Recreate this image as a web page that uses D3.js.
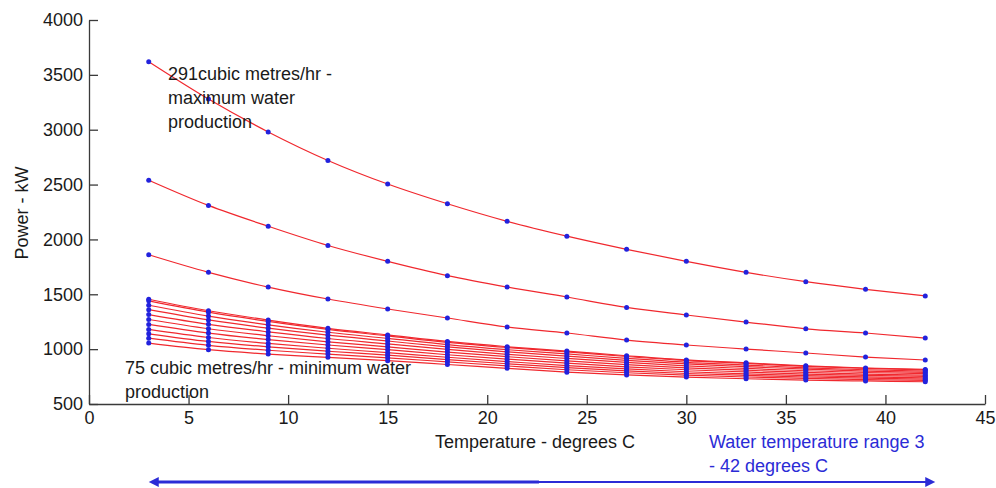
<!DOCTYPE html>
<html>
<head>
<meta charset="utf-8">
<script src="https://cdn.jsdelivr.net/npm/d3@7"></script>
<style>
  body { margin: 0; background: #fff; }
  svg { display: block; font-family: "Liberation Sans", Arial, sans-serif; }
</style>
</head>
<body>
<svg id="chart" width="996" height="488"></svg>
<script>
// temperatures (degrees C) where each curve was sampled
var temperatures = [3, 6, 9, 12, 15, 18, 21, 24, 27, 30, 33, 36, 39, 42];

// three upper curves (291 m3/hr at the top)
var upperSeries = [
  [3620, 3280, 2980, 2720, 2505, 2325, 2165, 2030, 1910, 1800, 1700, 1615, 1545, 1485],
  [2540, 2310, 2120, 1945, 1800, 1670, 1566, 1475, 1380, 1311, 1247, 1185, 1147, 1101],
  [1860, 1700, 1566, 1457, 1366, 1284, 1202, 1147, 1083, 1038, 1001, 965, 928, 901]
];

// the dense bundle of lower curves, down to 75 m3/hr
var lowerSeries = [
  [1455, 1350, 1265, 1190, 1130, 1070, 1022, 982, 940, 902, 875, 848, 828, 815],
  [1440, 1337, 1253, 1180, 1121, 1062, 1015, 975, 933, 896, 870, 843, 824, 811],
  [1400, 1301, 1222, 1154, 1098, 1041, 995, 956, 916, 880, 855, 830, 812, 800],
  [1360, 1266, 1191, 1127, 1074, 1020, 975, 936, 898, 865, 841, 817, 800, 788],
  [1315, 1226, 1157, 1097, 1048, 997, 953, 915, 879, 847, 824, 803, 787, 776],
  [1270, 1186, 1122, 1067, 1021, 973, 931, 893, 859, 829, 808, 788, 773, 763],
  [1225, 1146, 1087, 1038, 995, 949, 909, 872, 839, 812, 792, 773, 760, 751],
  [1180, 1106, 1052, 1008, 968, 926, 887, 850, 820, 794, 775, 759, 747, 738],
  [1140, 1070, 1021, 981, 945, 905, 867, 831, 802, 778, 761, 746, 735, 727],
  [1100, 1035, 990, 955, 921, 884, 847, 812, 785, 763, 746, 733, 723, 716],
  [1055, 995, 955, 925, 895, 860, 825, 790, 765, 745, 730, 718, 710, 703]
];

var xTicks = [0, 5, 10, 15, 20, 25, 30, 35, 40, 45];
var yTicks = [500, 1000, 1500, 2000, 2500, 3000, 3500, 4000];

var topNote = ['291cubic metres/hr -', 'maximum water', 'production'];
var bottomNote = ['75 cubic metres/hr - minimum water', 'production'];
var rangeNote = ['Water temperature range 3', '- 42 degrees C'];

var svg = d3.select('#chart');

var x = d3.scaleLinear().domain([0, 45]).range([89, 985]);
var y = d3.scaleLinear().domain([500, 4000]).range([404, 20]);

var lineColor = '#f0282e';
var dotColor = '#2222dd';
var blue = '#2b2bd6';
var ink = '#1a1a1a';

// axes with MATLAB-style inward ticks
var xAxis = svg.append('g')
  .attr('transform', 'translate(0,' + y(500) + ')')
  .call(d3.axisBottom(x).tickValues(xTicks).tickFormat(d3.format('d'))
    .tickSizeInner(-9).tickSizeOuter(0).tickPadding(5));
var yAxis = svg.append('g')
  .attr('transform', 'translate(' + x(0) + ',0)')
  .call(d3.axisLeft(y).tickValues(yTicks).tickFormat(d3.format('d'))
    .tickSizeInner(-9).tickSizeOuter(0).tickPadding(6));

[xAxis, yAxis].forEach(function(ax) {
  ax.select('.domain').attr('stroke', '#3a3a3a').attr('stroke-width', 1.3);
  ax.selectAll('.tick line').attr('stroke', '#3a3a3a').attr('stroke-width', 1.3);
  ax.selectAll('.tick text').attr('fill', ink).style('font-size', '18px')
    .style('font-family', '"Liberation Sans", Arial, sans-serif');
});
xAxis.selectAll('.tick text').attr('dy', '0.85em');

var line = d3.line()
  .x(function(d, i) { return x(temperatures[i]); })
  .y(function(d) { return y(d); })
  .curve(d3.curveMonotoneX);

var allSeries = upperSeries.concat(lowerSeries);

svg.append('g').selectAll('path')
  .data(allSeries)
  .enter().append('path')
  .attr('d', line)
  .attr('fill', 'none')
  .attr('stroke', lineColor)
  .attr('stroke-width', 1.2);

svg.append('g').selectAll('g')
  .data(allSeries)
  .enter().append('g')
  .selectAll('circle')
  .data(function(d) { return d; })
  .enter().append('circle')
  .attr('cx', function(d, i) { return x(temperatures[i]); })
  .attr('cy', function(d) { return y(d); })
  .attr('r', 2.5)
  .attr('fill', dotColor);

// axis titles
svg.append('text')
  .attr('x', 535).attr('y', 448)
  .attr('text-anchor', 'middle')
  .style('font-size', '18px').attr('fill', ink)
  .text('Temperature - degrees C');

svg.append('text')
  .attr('transform', 'translate(28,213) rotate(-90)')
  .attr('text-anchor', 'middle')
  .style('font-size', '18px').attr('fill', ink)
  .text('Power - kW');

// annotations
function note(lines, x0, y0, color) {
  svg.append('text')
    .attr('x', x0).attr('y', y0)
    .style('font-size', '18px').attr('fill', color)
    .selectAll('tspan').data(lines).enter().append('tspan')
    .attr('x', x0)
    .attr('dy', function(d, i) { return i ? 24 : 0; })
    .text(function(d) { return d; });
}
note(topNote, 168, 80, ink);
note(bottomNote, 125, 374, ink);
note(rangeNote, 709, 448, blue);

// double-headed range arrow under the axis
var ay = 482;
var ax0 = x(temperatures[0]);
var ax1 = x(temperatures[temperatures.length - 1]) + 10;
var amid = x(22.6);
svg.append('line').attr('x1', ax0 + 6).attr('x2', amid).attr('y1', ay).attr('y2', ay)
  .attr('stroke', blue).attr('stroke-width', 3);
svg.append('line').attr('x1', amid).attr('x2', ax1 - 6).attr('y1', ay).attr('y2', ay)
  .attr('stroke', blue).attr('stroke-width', 2);
svg.append('path')
  .attr('d', 'M' + ax0 + ',' + ay + 'l10,-5l0,10z')
  .attr('fill', blue);
svg.append('path')
  .attr('d', 'M' + ax1 + ',' + ay + 'l-10,-5l0,10z')
  .attr('fill', blue);
</script>
</body>
</html>
